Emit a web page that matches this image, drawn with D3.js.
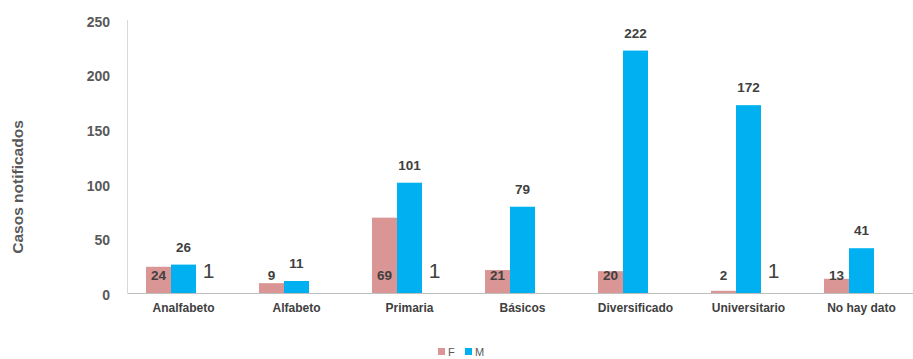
<!DOCTYPE html>
<html>
<head>
<meta charset="utf-8">
<script src="https://cdn.jsdelivr.net/npm/d3@7"></script>
<style>
  body { margin: 0; background: #fff; }
  svg { display: block; }
</style>
</head>
<body>
<svg id="chart" width="913" height="359"></svg>
<script>
const categories = ['Analfabeto', 'Alfabeto', 'Primaria', 'Básicos', 'Diversificado', 'Universitario', 'No hay dato']
const valuesF = [24, 9, 69, 21, 20, 2, 13]
const valuesM = [26, 11, 101, 79, 222, 172, 41]
const valuesOther = [1, null, 1, null, null, 1, null]
const yTicks = [0, 50, 100, 150, 200, 250]
const seriesNames = ['F', 'M']
const colorList = ['#d99694', '#00b0f0']

const $svg = d3.select('#chart')
const width = 913, height = 359
const MARGIN = { top: 20, right: -5, bottom: 66, left: 127 }
const boundedWidth = width - MARGIN.left - MARGIN.right
const boundedHeight = height - MARGIN.top - MARGIN.bottom

const $g = $svg.append('g').attr('transform', `translate(${MARGIN.left}, ${MARGIN.top})`)

const x = d3.scaleBand().domain(categories).range([0, boundedWidth]).paddingInner(0.336).paddingOuter(0.168)
const xSub = d3.scaleBand().domain([0, 1, 2]).range([0, x.bandwidth()])
const y = d3.scaleLinear().domain([0, 250]).range([boundedHeight, 0])

// y axis
const yAxis = d3.axisLeft(y).tickValues(yTicks).tickSize(0).tickPadding(17)
const $yAxis = $g.append('g').call(yAxis)
$yAxis.select('.domain').attr('stroke', '#d9d9d9').attr('d', `M0.5,0V${boundedHeight}`)
$yAxis.selectAll('text')
  .attr('font-family', 'Liberation Sans, Arial, sans-serif')
  .attr('font-size', 14).attr('font-weight', 'bold').attr('fill', '#595959')
  .attr('dy', '0.45em')

// x axis
const xAxis = d3.axisBottom(x).tickSize(0).tickPadding(10)
const $xAxis = $g.append('g').attr('transform', `translate(0, ${boundedHeight})`).call(xAxis)
$xAxis.select('.domain').attr('stroke', '#bfbfbf')
$xAxis.selectAll('text')
  .attr('font-family', 'Liberation Sans, Arial, sans-serif')
  .attr('font-size', 12).attr('font-weight', 'bold').attr('fill', '#404040')

const seriesData = [valuesF, valuesM]
seriesData.forEach((vals, s) => {
  $g.selectAll(`.bar-${s}`)
    .data(categories)
    .enter()
    .append('rect')
    .attr('class', `bar-${s}`)
    .attr('x', d => x(d) + xSub(s))
    .attr('width', xSub.bandwidth())
    .attr('y', (d, i) => y(vals[i]))
    .attr('height', (d, i) => boundedHeight - y(vals[i]))
    .attr('fill', colorList[s])
})

// F labels at the base
$g.selectAll('.lab-f')
  .data(categories)
  .enter()
  .append('text')
  .attr('x', d => x(d) + xSub(0) + xSub.bandwidth() / 2)
  .attr('y', boundedHeight - 13)
  .attr('text-anchor', 'middle')
  .attr('font-family', 'Liberation Sans, Arial, sans-serif')
  .attr('font-size', 13.5).attr('font-weight', 'bold').attr('fill', '#404040')
  .text((d, i) => valuesF[i])

// M labels above the bars
$g.selectAll('.lab-m')
  .data(categories)
  .enter()
  .append('text')
  .attr('x', d => x(d) + xSub(1) + xSub.bandwidth() / 2)
  .attr('y', (d, i) => y(valuesM[i]) - 13)
  .attr('text-anchor', 'middle')
  .attr('font-family', 'Liberation Sans, Arial, sans-serif')
  .attr('font-size', 13.5).attr('font-weight', 'bold').attr('fill', '#404040')
  .text((d, i) => valuesM[i])

// third series, only the labels show
$g.selectAll('.lab-o')
  .data(categories.filter((d, i) => valuesOther[i] != null))
  .enter()
  .append('text')
  .attr('x', d => x(d) + xSub(2) + xSub.bandwidth() / 2)
  .attr('y', d => y(valuesOther[categories.indexOf(d)]) - 14)
  .attr('text-anchor', 'middle')
  .attr('font-family', 'Liberation Sans, Arial, sans-serif')
  .attr('font-size', 21).attr('fill', '#404040')
  .text(d => valuesOther[categories.indexOf(d)])

// y title
$svg.append('text')
  .attr('transform', `translate(23, 187) rotate(-90)`)
  .attr('text-anchor', 'middle')
  .attr('font-family', 'Liberation Sans, Arial, sans-serif')
  .attr('font-size', 15.5).attr('font-weight', 'bold').attr('fill', '#595959')
  .text('Casos notificados')

// legend
const legendX = [438, 465]
const $legend = $svg.append('g')
seriesNames.forEach((name, i) => {
  $legend.append('rect')
    .attr('x', legendX[i]).attr('y', 348)
    .attr('width', 7).attr('height', 7)
    .attr('fill', colorList[i])
  $legend.append('text')
    .attr('x', legendX[i] + 10).attr('y', 356)
    .attr('font-family', 'Liberation Sans, Arial, sans-serif')
    .attr('font-size', 11).attr('fill', '#595959')
    .text(name)
})
</script>
</body>
</html>
